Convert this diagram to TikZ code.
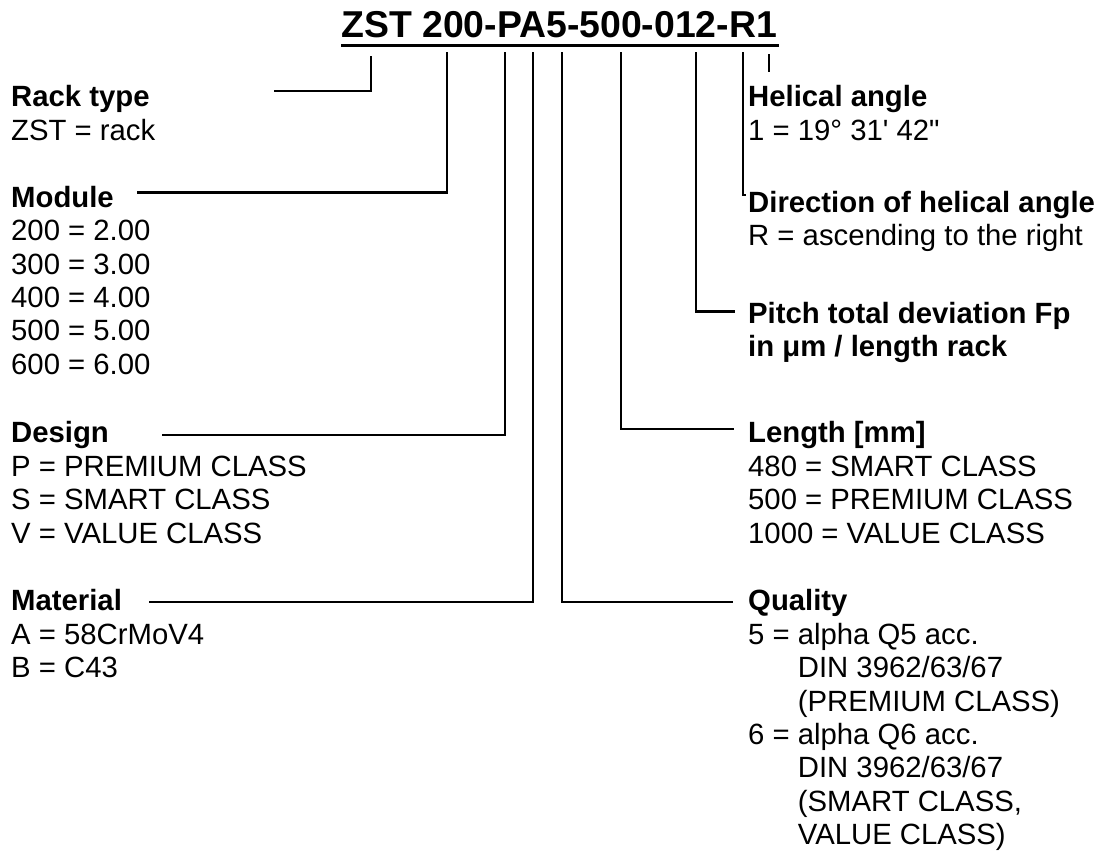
\documentclass[tikz,border=0pt]{standalone}
\usepackage{fontspec}
\setmainfont{Liberation Sans}[Ligatures=TeXOff]
\tikzset{
  conn/.style={line width=2.2pt},
  lbl/.style={inner sep=0pt, anchor=base west, font=\fontsize{29.3}{33.4}\selectfont},
  ttl/.style={inner sep=0pt, anchor=base west, font=\bfseries\fontsize{37.4}{40}\selectfont},
}
\newcommand{\blk}[1]{\begin{tabular}[t]{@{}l@{}}#1\end{tabular}}
\newcommand{\ind}{\phantom{5 = }}
\begin{document}
\begin{tikzpicture}[x=1pt,y=-1pt]
\useasboundingbox (0,0) rectangle (1104,855);
% title
\node[ttl] (title) at (341,37.5) {ZST 200-PA5-500-012-R1};
\coordinate (ulL) at (341,45.5);
\coordinate (ulR) at (779,45.5);
\draw[line width=3pt] (ulL) -- (ulR);
% left labels
\node[lbl] (rack) at (11,106.7) {\blk{\textbf{Rack type}\\ZST = rack}};
\node[lbl] (module) at (11,207.3) {\blk{\textbf{Module}\\200 = 2.00\\300 = 3.00\\400 = 4.00\\500 = 5.00\\600 = 6.00}};
\node[lbl] (design) at (11,442.8) {\blk{\textbf{Design}\\P = PREMIUM CLASS\\S = SMART CLASS\\V = VALUE CLASS}};
\node[lbl] (material) at (11,610.8) {\blk{\textbf{Material}\\A = 58CrMoV4\\B = C43}};
% right labels
\node[lbl] (helical) at (748,106.7) {\blk{\textbf{Helical angle}\\1 = 19° 31' 42"}};
\node[lbl] (direction) at (748,212) {\blk{\textbf{Direction of helical angle}\\R = ascending to the right}};
\node[lbl] (pitch) at (748,323) {\blk{\textbf{Pitch total deviation Fp}\\\textbf{in μm / length rack}}};
\node[lbl] (length) at (748,442.8) {\blk{\textbf{Length [mm]}\\480 = SMART CLASS\\500 = PREMIUM CLASS\\1000 = VALUE CLASS}};
\node[lbl] (quality) at (748,610.8) {\blk{\textbf{Quality}\\5 = alpha Q5 acc.\\\ind DIN 3962/63/67\\\ind (PREMIUM CLASS)\\6 = alpha Q6 acc.\\\ind DIN 3962/63/67\\\ind (SMART CLASS,\\\ind VALUE CLASS)}};
% connector points
\coordinate (tRack) at (370.7,56);   \coordinate (eRack) at (274,91);
\coordinate (tMod) at (446.7,52);    \coordinate (eMod) at (137,192.5);
\coordinate (tDes) at (505,52);      \coordinate (eDes) at (162,435);
\coordinate (tMat) at (533.3,52);    \coordinate (eMat) at (149,602);
\coordinate (tQua) at (561.7,52);    \coordinate (eQua) at (733,602);
\coordinate (tLen) at (621,52);      \coordinate (eLen) at (734,429);
\coordinate (tPit) at (696,52);      \coordinate (ePit) at (735,311.5);
\coordinate (tDir) at (743,52);      \coordinate (eDir) at (746,195);
\coordinate (tHel) at (769,54);      \coordinate (eHel) at (769,72);
% connectors
\draw[conn] (tRack) |- (eRack);
\draw[conn] (tMod) |- (eMod);
\draw[conn] (tDes) |- (eDes);
\draw[conn] (tMat) |- (eMat);
\draw[conn] (tQua) |- (eQua);
\draw[conn] (tLen) |- (eLen);
\draw[conn] (tPit) |- (ePit);
\draw[conn] (tDir) |- (eDir);
\draw[conn] (tHel) -- (eHel);
\end{tikzpicture}
\end{document}
